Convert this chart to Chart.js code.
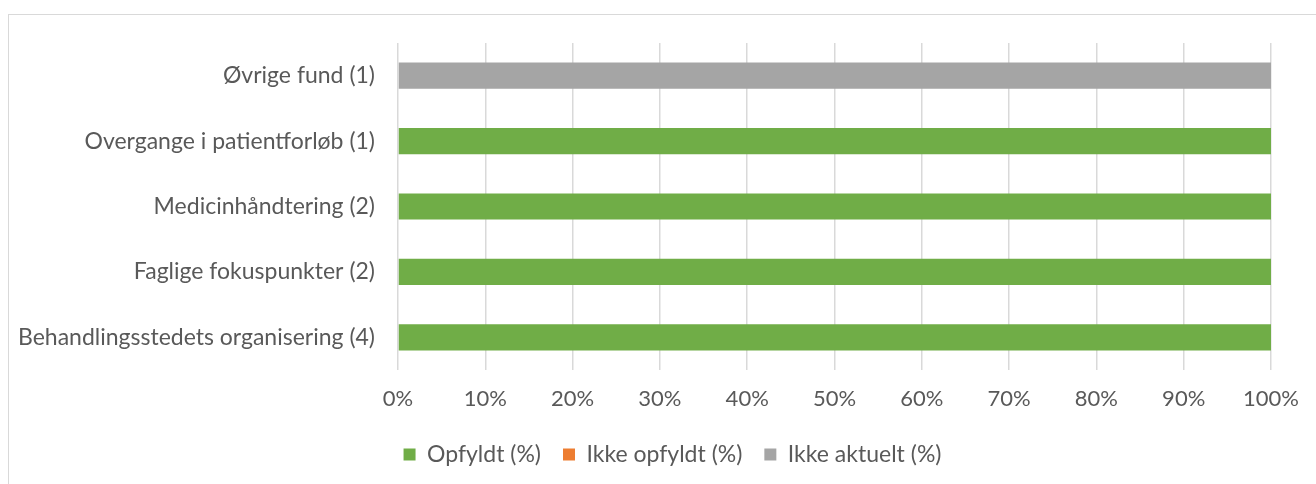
<!DOCTYPE html>
<html>
<head>
<meta charset="utf-8">
<script src="https://cdn.jsdelivr.net/npm/chart.js"></script>
<style>
  html, body { margin: 0; padding: 0; background: #fff; }
  #wrap { position: relative; width: 1316px; height: 484px; overflow: hidden; }
  #frame { position: absolute; left: 8px; top: 14px; width: 1320px; height: 480px; border: 1px solid #d9d9d9; box-sizing: border-box; }
  canvas { position: absolute; left: 0; top: 0; }
</style>
</head>
<body>
<div id="wrap">
  <div id="frame"></div>
  <canvas id="fundChart" width="1316" height="492"></canvas>
</div>
<script>
// categories, top to bottom
const categories = [
    'Øvrige fund (1)',
    'Overgange i patientforløb (1)',
    'Medicinhåndtering (2)',
    'Faglige fokuspunkter (2)',
    'Behandlingsstedets organisering (4)'
];
const opfyldt = [0, 100, 100, 100, 100];
const ikkeOpfyldt = [0, 0, 0, 0, 0];
const ikkeAktuelt = [100, 0, 0, 0, 0];
const xTicks = [0, 10, 20, 30, 40, 50, 60, 70, 80, 90, 100];

const textColor = '#595959';
const fontFamily = 'Lato, "Open Sans", sans-serif';

// nudge the legend right so it sits centred like the original
const legendShift = {
    id: 'legendShift',
    afterLayout(chart) {
        chart.legend.left += 37;
        chart.legend.right += 37;
    }
};

const ctx = document.getElementById('fundChart').getContext('2d');
const fundChart = new Chart(ctx, {
    type: 'bar',
    data: {
        labels: categories,
        datasets: [{
            label: 'Opfyldt (%)',
            data: opfyldt,
            backgroundColor: '#70ad47',
        }, {
            label: 'Ikke opfyldt (%)',
            data: ikkeOpfyldt,
            backgroundColor: '#ed7d31',
        }, {
            label: 'Ikke aktuelt (%)',
            data: ikkeAktuelt,
            backgroundColor: '#a5a5a5',
        }]
    },
    options: {
        indexAxis: 'y',
        responsive: false,
        animation: false,
        categoryPercentage: 1,
        barPercentage: 0.4,
        layout: {
            padding: { top: 43, right: 45, left: 0, bottom: 16 }
        },
        plugins: {
            tooltip: { enabled: false },
            legend: {
                position: 'bottom',
                labels: {
                    boxWidth: 12,
                    boxHeight: 12,
                    padding: 22,
                    color: textColor,
                    font: { family: fontFamily, size: 23 }
                }
            }
        },
        scales: {
            x: {
                stacked: true,
                min: 0,
                max: 100,
                afterBuildTicks: (axis) => {
                    axis.ticks = xTicks.map(v => ({ value: v }));
                },
                afterFit: (axis) => { axis.height = 51; },
                grid: { color: '#d9d9d9', lineWidth: 1.5, drawTicks: false },
                border: { display: false },
                ticks: {
                    padding: 16,
                    color: textColor,
                    font: { family: fontFamily, size: 22 },
                    callback: (v) => v + '%'
                }
            },
            y: {
                stacked: true,
                afterFit: (axis) => { axis.width = 398; },
                grid: { display: false, drawTicks: false },
                border: { display: false },
                ticks: {
                    padding: 23,
                    color: textColor,
                    font: { family: fontFamily, size: 23 }
                }
            }
        }
    },
    plugins: [legendShift]
});
</script>
</body>
</html>
